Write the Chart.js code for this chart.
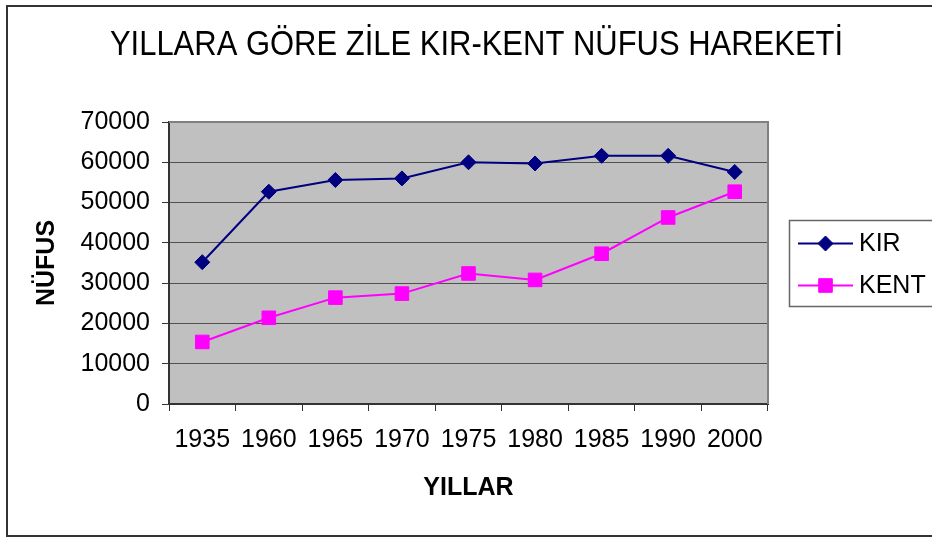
<!DOCTYPE html>
<html>
<head>
<meta charset="utf-8">
<script src="https://cdn.jsdelivr.net/npm/chart.js@4/dist/chart.umd.min.js"></script>
<style>
  html, body { margin: 0; padding: 0; background: #fff; }
  #wrap { width: 932px; height: 539px; position: relative; }
</style>
</head>
<body>
<div id="wrap"><canvas id="c" width="932" height="539"></canvas></div>
<script>
const chartTitle = "YILLARA GÖRE ZİLE KIR-KENT NÜFUS HAREKETİ";
const xAxisTitle = "YILLAR";
const yAxisTitle = "NÜFUS";
const years = ["1935", "1960", "1965", "1970", "1975", "1980", "1985", "1990", "2000"];
const kirLabel = "KIR";
const kentLabel = "KENT";
const kirValues = [35200, 52700, 55600, 56000, 60000, 59700, 61600, 61600, 57600];
const kentValues = [15400, 21400, 26400, 27400, 32400, 30800, 37300, 46300, 52700];
const yTicks = [0, 10000, 20000, 30000, 40000, 50000, 60000, 70000];

const KIR_COLOR = "#000080";
const KENT_COLOR = "#FF00FF";
const FONT = "'Liberation Sans', Arial, sans-serif";

const decorPlugin = {
  id: 'decor',
  beforeDraw(chart) {
    const {ctx, chartArea: a} = chart;
    ctx.save();
    ctx.fillStyle = '#C0C0C0';
    ctx.fillRect(a.left, a.top, a.right - a.left, a.bottom - a.top);
    ctx.restore();
  },
  beforeDatasetsDraw(chart) {
    const {ctx, chartArea: a} = chart;
    ctx.save();
    ctx.strokeStyle = '#808080';
    ctx.lineWidth = 2;
    ctx.beginPath();
    ctx.moveTo(a.left, a.top);
    ctx.lineTo(a.right, a.top);
    ctx.lineTo(a.right, a.bottom);
    ctx.stroke();
    ctx.restore();
  },
  afterDraw(chart) {
    const {ctx} = chart;
    ctx.save();
    // chart title (slightly condensed, like the original)
    ctx.save();
    ctx.translate(476.5, 45);
    ctx.scale(0.885, 1);
    ctx.fillStyle = '#000';
    ctx.font = "35px " + FONT;
    ctx.textAlign = 'center';
    ctx.textBaseline = 'middle';
    ctx.fillText(chartTitle, 0, 0);
    ctx.restore();
    // outer frame
    ctx.strokeStyle = '#333';
    ctx.lineWidth = 2;
    ctx.strokeRect(7, 6, 960, 530);
    // legend box
    ctx.fillStyle = '#fff';
    ctx.fillRect(789, 220, 160, 86);
    ctx.strokeStyle = '#666';
    ctx.lineWidth = 1.5;
    ctx.strokeRect(789.5, 220.5, 160, 86);
    const rows = [243.5, 285.5];
    chart.data.datasets.forEach((ds, i) => {
      const y = rows[i];
      ctx.strokeStyle = ds.borderColor;
      ctx.lineWidth = 2;
      ctx.beginPath();
      ctx.moveTo(798, y);
      ctx.lineTo(853, y);
      ctx.stroke();
      ctx.fillStyle = ds.pointBackgroundColor;
      ctx.strokeStyle = ds.pointBorderColor;
      ctx.lineWidth = 1;
      Chart.helpers.drawPoint(ctx, {
        pointStyle: ds.pointStyle, radius: ds.pointRadius, rotation: 0, borderWidth: 1
      }, 825.5, y);
      ctx.fillStyle = '#000';
      ctx.font = "25px " + FONT;
      ctx.textBaseline = 'middle';
      ctx.textAlign = 'left';
      ctx.fillText(ds.label, 859, y + 1);
    });
    ctx.restore();
  }
};

new Chart(document.getElementById('c'), {
  type: 'line',
  data: {
    labels: years,
    datasets: [
      {
        label: kirLabel,
        data: kirValues,
        borderColor: KIR_COLOR,
        backgroundColor: KIR_COLOR,
        pointBackgroundColor: KIR_COLOR,
        pointBorderColor: KIR_COLOR,
        borderWidth: 2,
        pointStyle: 'rectRot',
        pointRadius: 7.5,
        pointBorderWidth: 1,
        tension: 0,
        fill: false
      },
      {
        label: kentLabel,
        data: kentValues,
        borderColor: KENT_COLOR,
        backgroundColor: KENT_COLOR,
        pointBackgroundColor: KENT_COLOR,
        pointBorderColor: KENT_COLOR,
        borderWidth: 2,
        pointStyle: 'rect',
        pointRadius: 9.6,
        pointBorderWidth: 1,
        tension: 0,
        fill: false
      }
    ]
  },
  options: {
    responsive: false,
    animation: false,
    devicePixelRatio: 1,
    layout: { padding: { left: 0, right: 164, top: 122, bottom: 0 } },
    plugins: {
      legend: { display: false },
      tooltip: { enabled: false },
      title: { display: false }
    },
    scales: {
      x: {
        type: 'category',
        offset: true,
        grid: {
          offset: true,
          drawOnChartArea: false,
          drawTicks: true,
          tickLength: 7,
          tickColor: '#333',
          tickWidth: 1
        },
        border: { display: true, color: '#333', width: 2 },
        ticks: {
          color: '#000',
          font: { family: FONT, size: 25 },
          padding: 14,
          maxRotation: 0,
          autoSkip: false
        },
        title: {
          display: true,
          text: xAxisTitle,
          color: '#000',
          font: { family: FONT, size: 25, weight: 'bold' },
          padding: { top: 0, bottom: 36 }
        },
        afterFit(scale) { scale.height = 135; }
      },
      y: {
        min: 0,
        max: 70000,
        afterBuildTicks(scale) { scale.ticks = yTicks.map(v => ({ value: v })); },
        grid: {
          color: '#505050',
          lineWidth: 1,
          drawTicks: true,
          tickLength: 7,
          tickColor: '#333'
        },
        border: { display: true, color: '#333', width: 2 },
        ticks: {
          color: '#000',
          font: { family: FONT, size: 25 },
          padding: 12,
          callback: v => String(v)
        },
        title: {
          display: true,
          text: yAxisTitle,
          color: '#000',
          font: { family: FONT, size: 25, weight: 'bold' },
          padding: { top: 32, bottom: 0 }
        },
        afterFit(scale) { scale.width = 169; }
      }
    }
  },
  plugins: [decorPlugin]
});
</script>
</body>
</html>
